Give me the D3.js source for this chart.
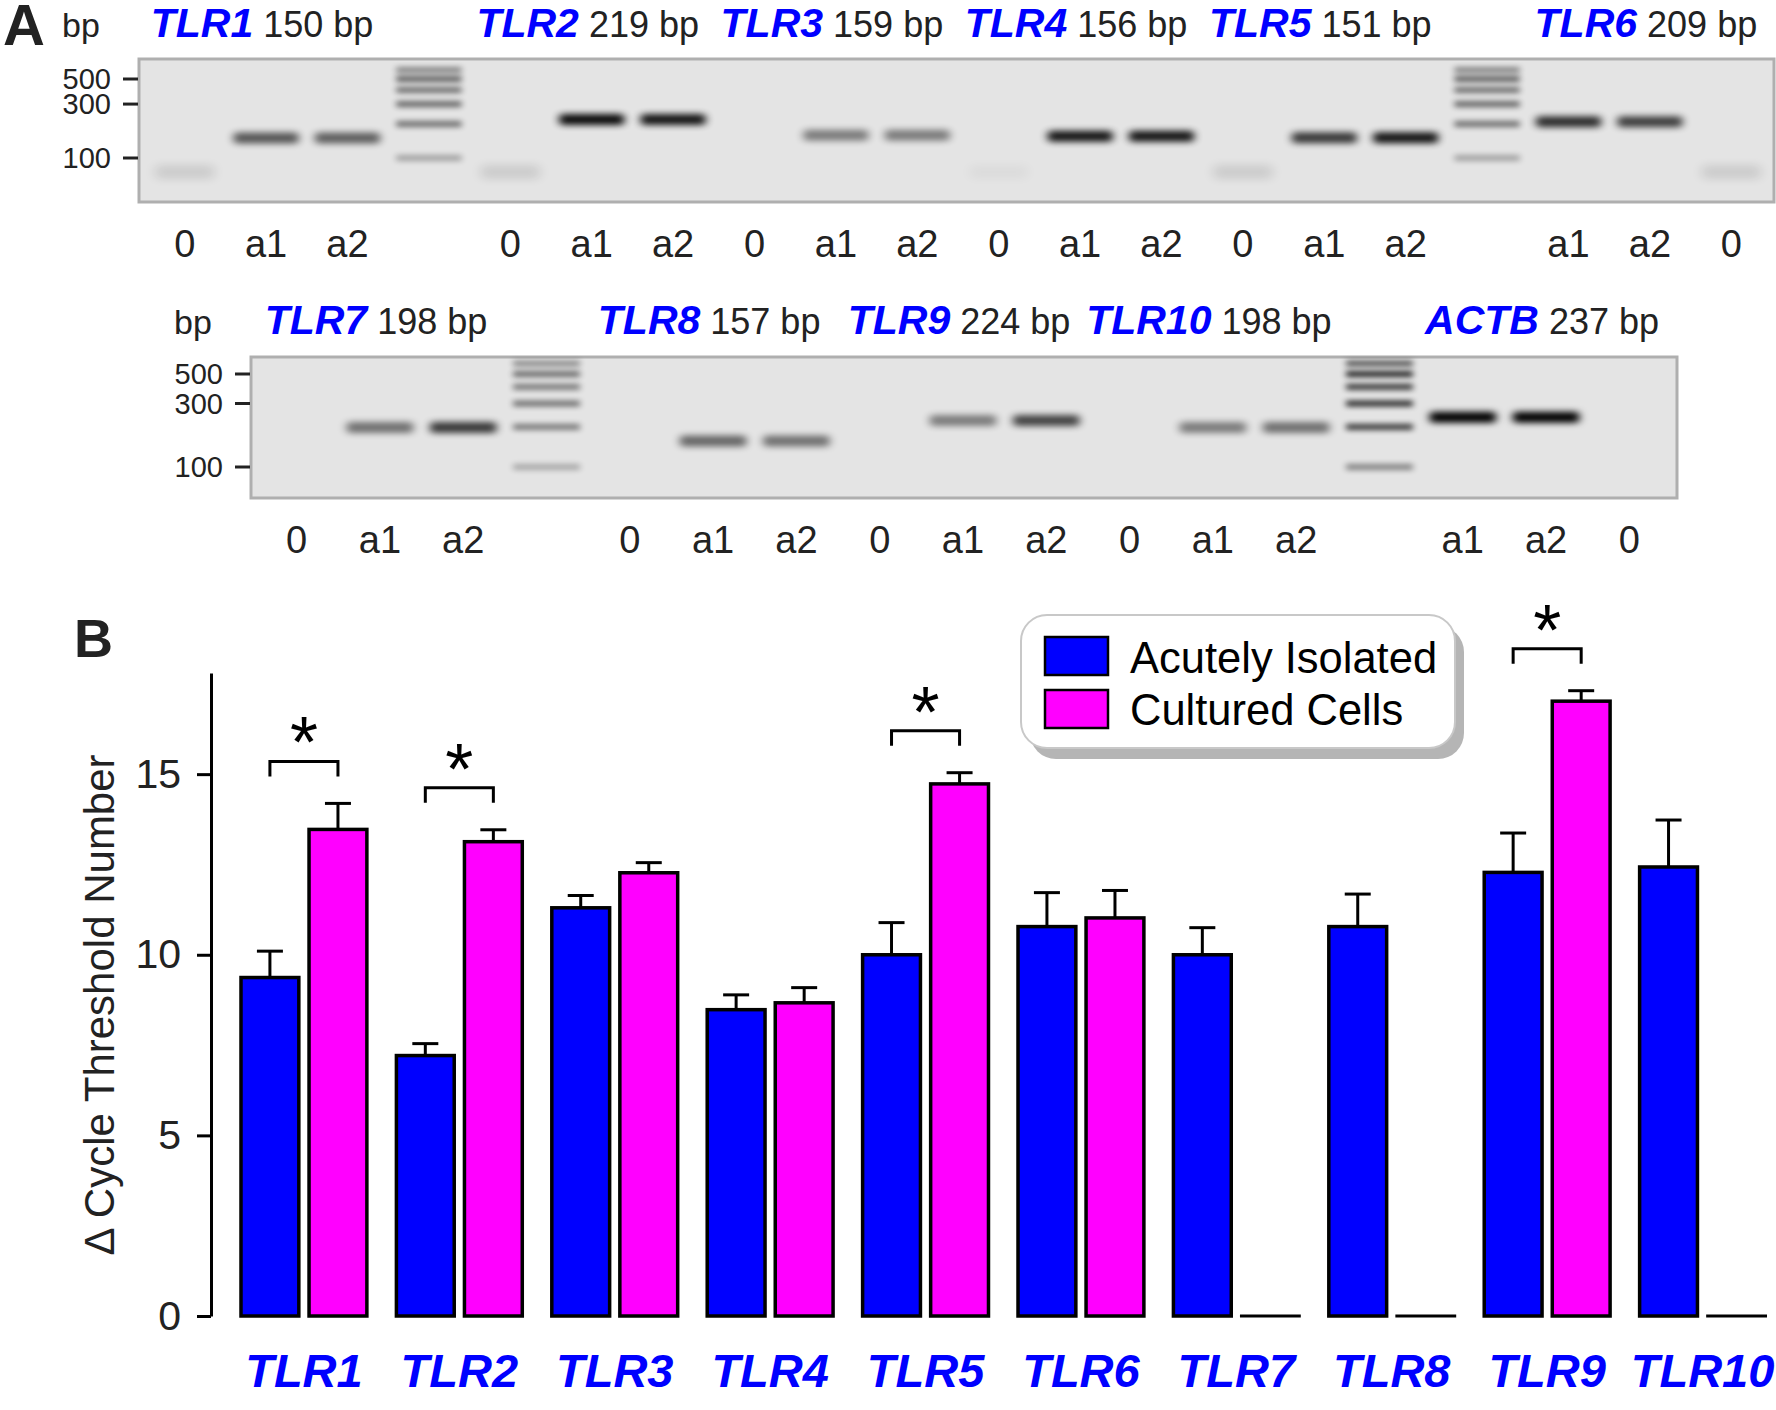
<!DOCTYPE html>
<html>
<head>
<meta charset="utf-8">
<script src="https://cdn.jsdelivr.net/npm/d3@7"></script>
<style>
  body { margin: 0; background: #fff; }
  text { font-family: "Liberation Sans", Arial, Helvetica, sans-serif; }
</style>
</head>
<body>
<svg id="fig" width="1776" height="1410"></svg>
<script>
// ---------- panel A: gel data ----------
var gelTicks = [100, 300, 500];
var ladderBp = [100, 200, 300, 400, 500, 600];
var ladderWeight = [0.45, 0.8, 0.85, 0.8, 0.9, 0.65];

var row1Genes = ["TLR1", "TLR2", "TLR3", "TLR4", "TLR5", "TLR6"];
var row1Amplicons = [150, 219, 159, 156, 151, 209];
var row1HeaderLane = [1, 5, 8, 11, 14, 18];
var row1Lanes = ["0", "a1", "a2", "L", "0", "a1", "a2", "0", "a1", "a2",
                 "0", "a1", "a2", "0", "a1", "a2", "L", "a1", "a2", "0"];
var row1BandBp = [75, 150, 150, 0, 75, 219, 219, 0, 159, 159,
                  75, 156, 156, 75, 151, 151, 0, 209, 209, 75];
var row1Strength = [0.1, 0.62, 0.58, 0.55, 0.1, 0.95, 0.9, 0, 0.45, 0.45,
                    0.03, 0.9, 0.9, 0.1, 0.75, 0.9, 0.55, 0.8, 0.72, 0.1];

var row2Genes = ["TLR7", "TLR8", "TLR9", "TLR10", "ACTB"];
var row2Amplicons = [198, 157, 224, 198, 237];
var row2HeaderLane = [1, 5, 8, 11, 15];
var row2Lanes = ["0", "a1", "a2", "L", "0", "a1", "a2", "0", "a1", "a2",
                 "0", "a1", "a2", "L", "a1", "a2", "0"];
var row2BandBp = [0, 198, 198, 0, 0, 157, 157, 0, 224, 224,
                  0, 198, 198, 0, 237, 237, 0];
var row2Strength = [0, 0.5, 0.75, 0.5, 0, 0.55, 0.5, 0, 0.45, 0.7,
                    0, 0.45, 0.5, 0.8, 1, 1, 0];

// ---------- panel B: qPCR data ----------
var categories = ["TLR1", "TLR2", "TLR3", "TLR4", "TLR5", "TLR6", "TLR7", "TLR8", "TLR9", "TLR10"];
var seriesNames = ["Acutely Isolated", "Cultured Cells"];
var seriesColors = ["#0000ff", "#ff00ff"];
var acuteMean = [9.37, 7.21, 11.30, 8.48, 10.0, 10.78, 10.0, 10.78, 12.28, 12.43];
var acuteSem = [0.73, 0.33, 0.34, 0.41, 0.89, 0.94, 0.75, 0.90, 1.09, 1.30];
var culturedMean = [13.47, 13.13, 12.27, 8.67, 14.73, 11.02, 0, 0, 17.02, 0];
var culturedSem = [0.72, 0.33, 0.28, 0.42, 0.31, 0.76, 0, 0, 0.29, 0];
var significant = ["TLR1", "TLR2", "TLR5", "TLR9"];
var yTicks = [0, 5, 10, 15];

var svg = d3.select("#fig");
var ink = "#222";

// blur filters for gel bands
var defs = svg.append("defs");
defs.append("filter").attr("id", "blurBand")
  .attr("x", "-30%").attr("y", "-200%").attr("width", "160%").attr("height", "500%")
  .append("feGaussianBlur").attr("stdDeviation", "4 3.2");
defs.append("filter").attr("id", "blurLadder")
  .attr("x", "-30%").attr("y", "-250%").attr("width", "160%").attr("height", "600%")
  .append("feGaussianBlur").attr("stdDeviation", "3 2.4");
defs.append("filter").attr("id", "blurDimer")
  .attr("x", "-50%").attr("y", "-150%").attr("width", "200%").attr("height", "400%")
  .append("feGaussianBlur").attr("stdDeviation", "6 4");

/**
 * Draws one gel strip with its size ticks, lane labels and header.
 */
function drawGel(g) {
  var lane = d3.scaleBand()
    .domain(d3.range(g.lanes.length))
    .range([g.laneLeft, g.laneRight]);
  var bp = d3.scaleLog().domain([100, 500]).range([g.bp100, g.bp500]);

  // gel body
  svg.append("rect")
    .attr("x", g.x).attr("y", g.y)
    .attr("width", g.w).attr("height", g.h)
    .attr("fill", "#e4e4e4")
    .attr("stroke", "#afafaf")
    .attr("stroke-width", 3);

  var bands = svg.append("g");
  g.lanes.forEach(function (l, i) {
    var cx = lane(i) + lane.bandwidth() / 2;
    var bw = lane.bandwidth() * 0.8;
    if (l === "L") {
      // ladder lane
      ladderBp.forEach(function (b, k) {
        bands.append("rect")
          .attr("x", cx - bw / 2).attr("y", bp(b) - 3.5)
          .attr("width", bw).attr("height", 7)
          .attr("fill", "#000")
          .attr("opacity", g.strength[i] * ladderWeight[k])
          .attr("filter", "url(#blurLadder)");
      });
    } else if (g.bandBp[i] > 0 && g.strength[i] > 0) {
      var dimer = g.bandBp[i] < 100;
      bands.append("rect")
        .attr("x", cx - (dimer ? bw * 0.45 : bw / 2))
        .attr("y", bp(g.bandBp[i]) - (dimer ? 7 : 5.5))
        .attr("width", dimer ? bw * 0.9 : bw)
        .attr("height", dimer ? 14 : 11)
        .attr("rx", 4)
        .attr("fill", "#000")
        .attr("opacity", g.strength[i])
        .attr("filter", dimer ? "url(#blurDimer)" : "url(#blurBand)");
    }
    // lane label
    if (l !== "L") {
      svg.append("text")
        .attr("x", cx).attr("y", g.labelY)
        .attr("text-anchor", "middle")
        .attr("font-size", 38)
        .attr("fill", ink)
        .text(l);
    }
  });

  // bp size ticks
  gelTicks.forEach(function (t) {
    svg.append("line")
      .attr("x1", g.x - 16).attr("x2", g.x - 1)
      .attr("y1", bp(t)).attr("y2", bp(t))
      .attr("stroke", ink).attr("stroke-width", 3);
    svg.append("text")
      .attr("x", g.x - 28).attr("y", bp(t) + 10)
      .attr("text-anchor", "end")
      .attr("font-size", 29)
      .attr("fill", ink)
      .text(t);
  });

  // "bp" header and gene headers
  svg.append("text")
    .attr("x", g.x - 77).attr("y", g.headerY)
    .attr("font-size", 34)
    .attr("fill", ink)
    .text("bp");
  g.genes.forEach(function (gene, k) {
    var i = g.headerLane[k];
    var t = svg.append("text")
      .attr("x", lane(i) + lane.bandwidth() / 2 - 4)
      .attr("y", g.headerY)
      .attr("text-anchor", "middle");
    t.append("tspan")
      .attr("font-size", 41)
      .attr("font-weight", "bold")
      .attr("font-style", "italic")
      .attr("fill", "#0000ff")
      .text(gene);
    t.append("tspan")
      .attr("font-size", 36)
      .attr("fill", ink)
      .text(" " + g.amplicons[k] + " bp");
  });
}

drawGel({
  x: 139, y: 59, w: 1635, h: 143, laneLeft: 144, laneRight: 1772,
  bp100: 158, bp500: 79, labelY: 257, headerY: 37,
  genes: row1Genes, amplicons: row1Amplicons, headerLane: row1HeaderLane,
  lanes: row1Lanes, bandBp: row1BandBp, strength: row1Strength
});
drawGel({
  x: 251, y: 357, w: 1426, h: 141, laneLeft: 255, laneRight: 1671,
  bp100: 467, bp500: 374, labelY: 553, headerY: 334,
  genes: row2Genes, amplicons: row2Amplicons, headerLane: row2HeaderLane,
  lanes: row2Lanes, bandBp: row2BandBp, strength: row2Strength
});

// panel letters
svg.append("text").attr("x", 3).attr("y", 45)
  .attr("font-size", 58).attr("font-weight", "bold").attr("fill", ink).text("A");
svg.append("text").attr("x", 74).attr("y", 657)
  .attr("font-size", 54).attr("font-weight", "bold").attr("fill", ink).text("B");

// ---------- panel B: bar chart ----------
var y = d3.scaleLinear().domain([0, 17.8]).range([1316, 673]);
var x0 = d3.scaleBand().domain(categories).range([241, 1765.5]).paddingInner(0.19);
var x1 = d3.scaleBand().domain(seriesNames).range([0, x0.bandwidth()]).paddingInner(0.15);

var yAxis = svg.append("g")
  .attr("transform", "translate(211,0)")
  .call(d3.axisLeft(y).tickValues(yTicks).tickSize(14).tickSizeOuter(0).tickPadding(16));
yAxis.select(".domain").attr("stroke", "#000").attr("stroke-width", 3);
yAxis.selectAll(".tick line").attr("stroke", "#000").attr("stroke-width", 3);
yAxis.selectAll(".tick text")
  .attr("font-size", 41)
  .attr("font-family", "Liberation Sans, Arial, sans-serif")
  .attr("fill", ink);

svg.append("text")
  .attr("transform", "rotate(-90)")
  .attr("x", -1005).attr("y", 114)
  .attr("text-anchor", "middle")
  .attr("font-size", 42)
  .attr("fill", ink)
  .text("\u0394 Cycle Threshold Number");

var rows = categories.map(function (c, i) {
  return {
    cat: c,
    vals: [
      { key: seriesNames[0], mean: acuteMean[i], sem: acuteSem[i], color: seriesColors[0] },
      { key: seriesNames[1], mean: culturedMean[i], sem: culturedSem[i], color: seriesColors[1] }
    ]
  };
});

var groups = svg.selectAll("g.grp")
  .data(rows)
  .enter()
  .append("g")
  .attr("class", "grp")
  .attr("transform", function (d) { return "translate(" + x0(d.cat) + ",0)"; });

// error bars (drawn first so the bar outline covers their base)
groups.selectAll("g.err")
  .data(function (d) { return d.vals.filter(function (v) { return v.sem > 0; }); })
  .enter()
  .append("g")
  .attr("class", "err")
  .each(function (v) {
    var cx = x1(v.key) + x1.bandwidth() / 2;
    var e = d3.select(this);
    e.append("line")
      .attr("x1", cx).attr("x2", cx)
      .attr("y1", y(v.mean)).attr("y2", y(v.mean + v.sem))
      .attr("stroke", "#000").attr("stroke-width", 3);
    e.append("line")
      .attr("x1", cx - 13).attr("x2", cx + 13)
      .attr("y1", y(v.mean + v.sem)).attr("y2", y(v.mean + v.sem))
      .attr("stroke", "#000").attr("stroke-width", 3);
  });

groups.selectAll("rect")
  .data(function (d) { return d.vals.filter(function (v) { return v.mean > 0; }); })
  .enter()
  .append("rect")
  .attr("x", function (v) { return x1(v.key); })
  .attr("y", function (v) { return y(v.mean); })
  .attr("width", x1.bandwidth())
  .attr("height", function (v) { return y(0) - y(v.mean); })
  .attr("fill", function (v) { return v.color; })
  .attr("stroke", "#000")
  .attr("stroke-width", 3.5);

// empty (zero) bars show as a flat line on the baseline
groups.selectAll("line.zero")
  .data(function (d) { return d.vals.filter(function (v) { return v.mean === 0; }); })
  .enter()
  .append("line")
  .attr("class", "zero")
  .attr("x1", function (v) { return x1(v.key) - 1.5; })
  .attr("x2", function (v) { return x1(v.key) + x1.bandwidth() + 1.5; })
  .attr("y1", y(0)).attr("y2", y(0))
  .attr("stroke", "#000")
  .attr("stroke-width", 3);

// significance brackets
rows.filter(function (d) { return significant.indexOf(d.cat) >= 0; })
  .forEach(function (d) {
    var xa = x0(d.cat) + x1(seriesNames[0]) + x1.bandwidth() / 2;
    var xc = x0(d.cat) + x1(seriesNames[1]) + x1.bandwidth() / 2;
    var top = Math.min(y(d.vals[0].mean + d.vals[0].sem), y(d.vals[1].mean + d.vals[1].sem)) - 27 - 15;
    svg.append("path")
      .attr("d", "M" + xa + "," + (top + 15) + "V" + top + "H" + xc + "V" + (top + 15))
      .attr("fill", "none")
      .attr("stroke", "#000")
      .attr("stroke-width", 3);
    svg.append("text")
      .attr("x", (xa + xc) / 2).attr("y", top + 6)
      .attr("text-anchor", "middle")
      .attr("font-size", 72)
      .attr("fill", "#000")
      .text("*");
  });

// category labels
svg.selectAll("text.cat")
  .data(categories)
  .enter()
  .append("text")
  .attr("class", "cat")
  .attr("x", function (c) { return x0(c) + x0.bandwidth() / 2; })
  .attr("y", 1387)
  .attr("text-anchor", "middle")
  .attr("font-size", 47)
  .attr("font-weight", "bold")
  .attr("font-style", "italic")
  .attr("fill", "#0000ff")
  .text(function (c) { return c; });

// legend
var legend = svg.append("g");
legend.append("rect")
  .attr("x", 1030).attr("y", 626).attr("width", 434).attr("height", 133)
  .attr("rx", 26).attr("fill", "#b5b5b5");
legend.append("rect")
  .attr("x", 1021).attr("y", 615).attr("width", 434).attr("height", 133)
  .attr("rx", 26).attr("fill", "#fff")
  .attr("stroke", "#c8c8c8").attr("stroke-width", 2);
seriesNames.forEach(function (s, i) {
  legend.append("rect")
    .attr("x", 1045).attr("y", 637 + i * 53)
    .attr("width", 63).attr("height", 38)
    .attr("fill", seriesColors[i])
    .attr("stroke", "#000").attr("stroke-width", 2.5);
  legend.append("text")
    .attr("x", 1130).attr("y", 673 + i * 52)
    .attr("font-size", 43.5)
    .attr("fill", "#000")
    .text(s);
});
</script>
</body>
</html>
